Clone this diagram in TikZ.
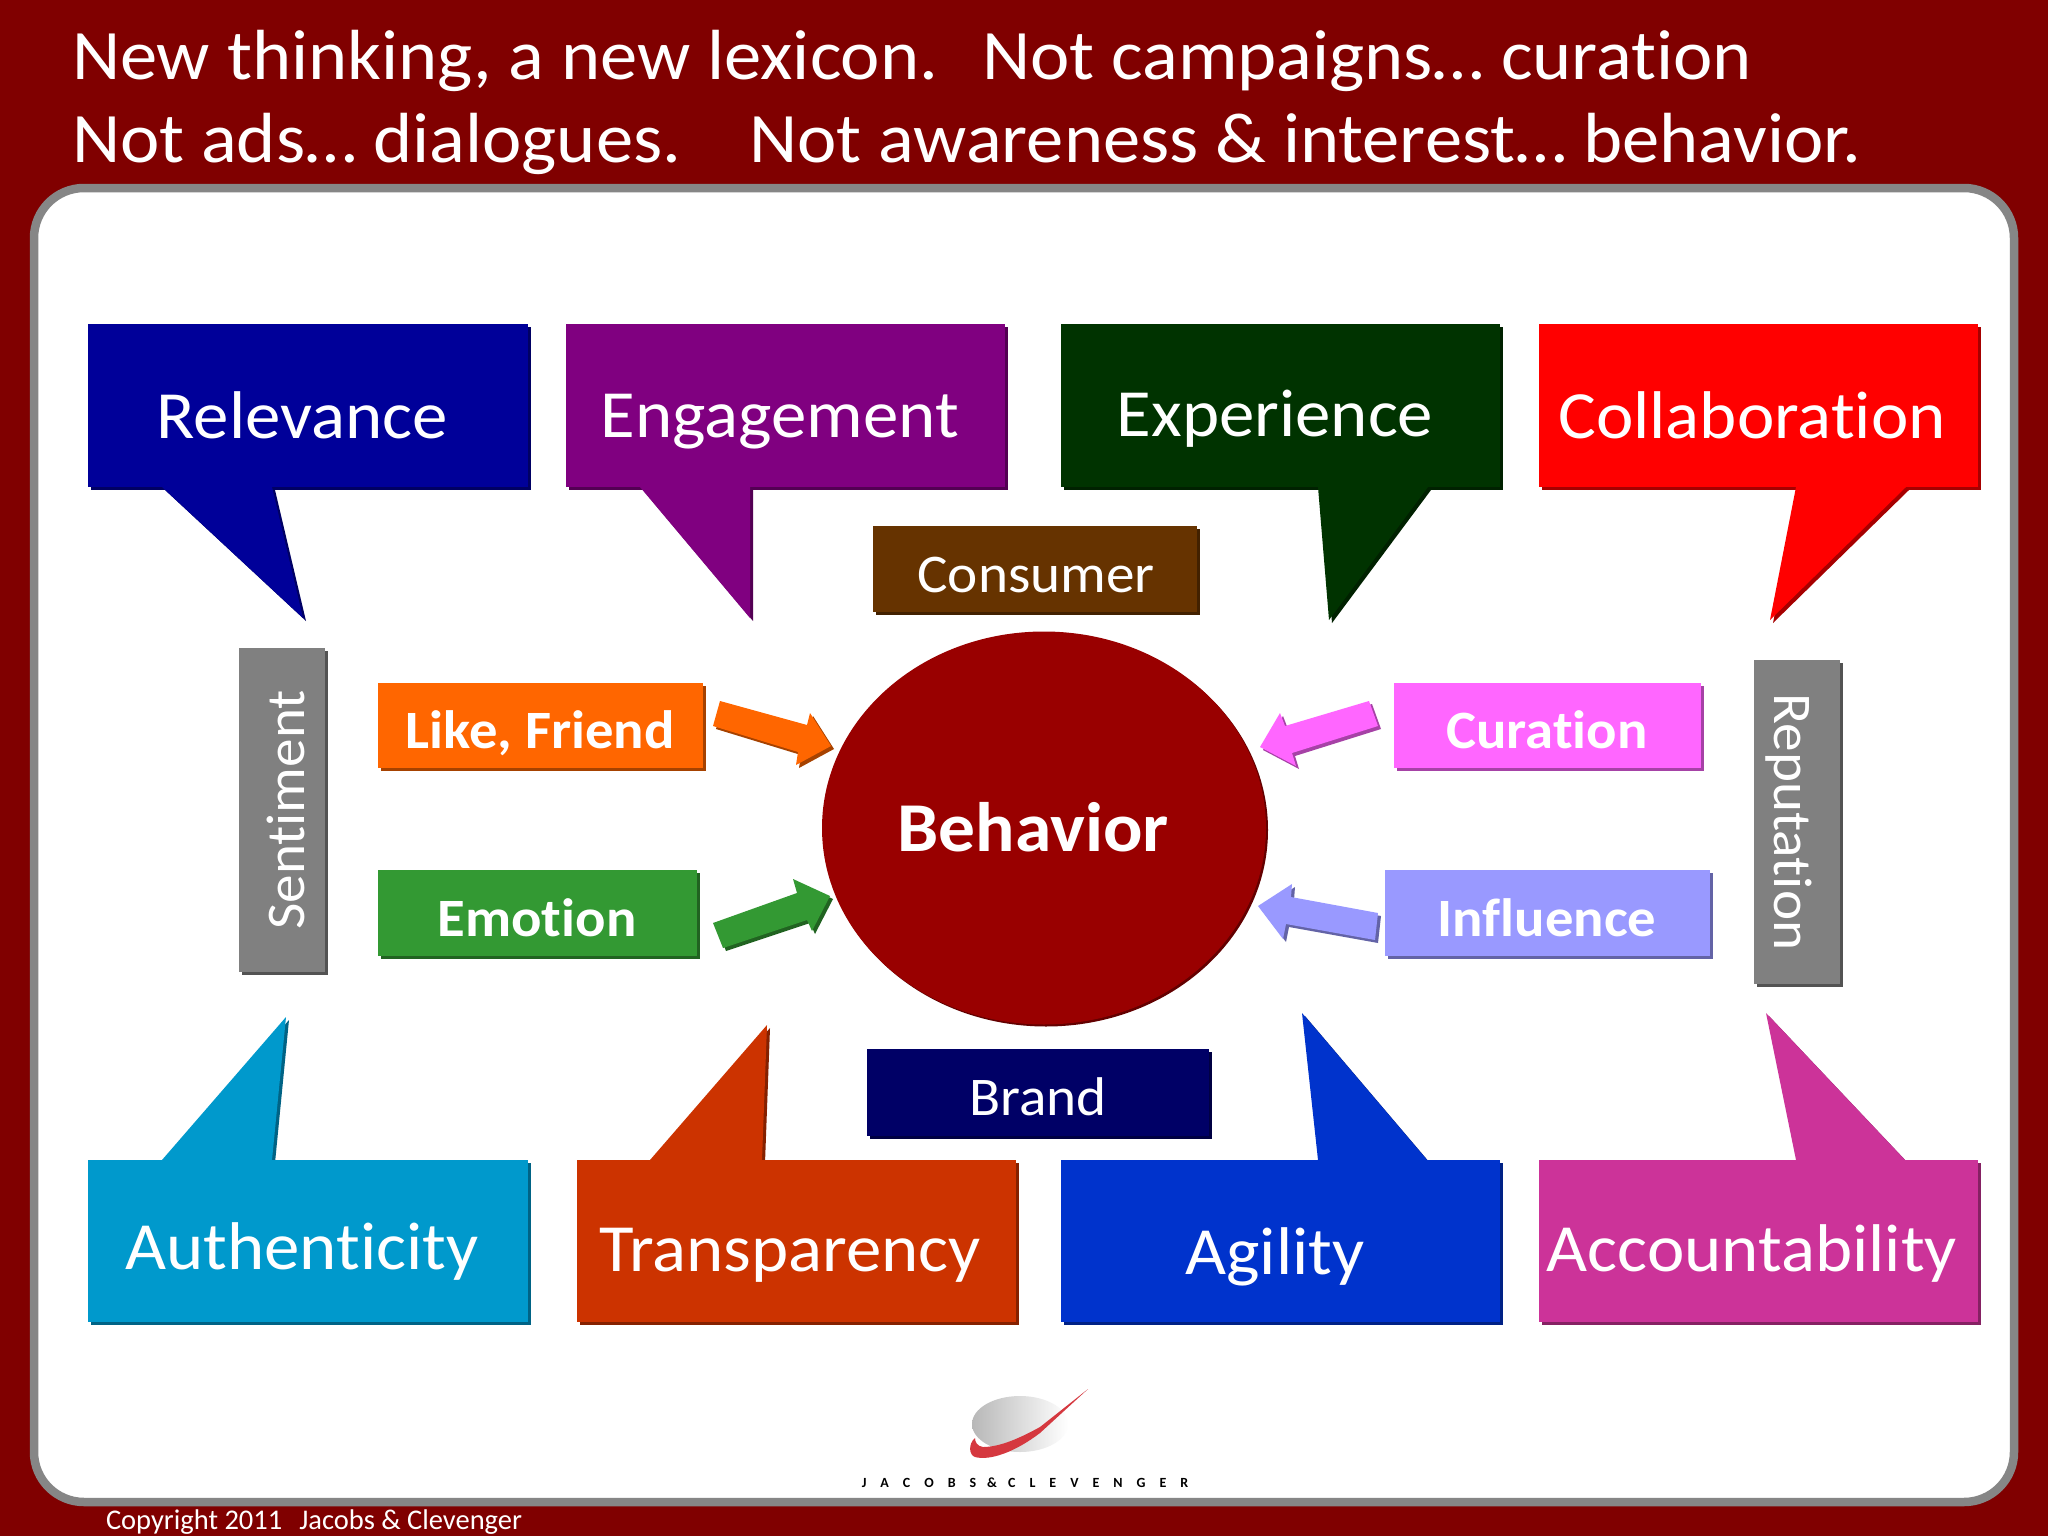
\documentclass[tikz,border=0pt]{standalone}
\usepackage{fontspec}
\setmainfont{Carlito}[FakeStretch=1.05,Ligatures=NoCommon]
\newfontfamily\plainf{Carlito}[Ligatures=NoCommon]
\usetikzlibrary{shadings}
\definecolor{bgred}{HTML}{800000}
\definecolor{panelgray}{HTML}{868686}
\definecolor{cRel}{HTML}{000099}
\definecolor{cEng}{HTML}{800080}
\definecolor{cExp}{HTML}{003300}
\definecolor{cCol}{HTML}{FF0000}
\definecolor{cAut}{HTML}{0099CC}
\definecolor{cTra}{HTML}{CC3300}
\definecolor{cAgi}{HTML}{0033CC}
\definecolor{cAcc}{HTML}{CC3399}
\definecolor{cCon}{HTML}{663300}
\definecolor{cBra}{HTML}{000066}
\definecolor{cBeh}{HTML}{990000}
\definecolor{cGra}{HTML}{808080}
\definecolor{cLik}{HTML}{FF6600}
\definecolor{cEmo}{HTML}{339933}
\definecolor{cCur}{HTML}{FF66FF}
\definecolor{cInf}{HTML}{9999FF}
\definecolor{swoosh}{HTML}{D5383F}
\tikzset{
  x=1pt,y=-1pt,
  lab/.style={text=white,anchor=base,inner sep=0pt,outer sep=0pt},
  big/.style={lab,font=\fontsize{67.5}{67.5}\selectfont},
  mid/.style={lab,font=\fontsize{54.5}{54.5}\selectfont},
  bmid/.style={lab,font=\bfseries\fontsize{54}{54}\selectfont},
  ttl/.style={lab,anchor=base west,font=\fontsize{71}{72}\selectfont},
  sh/.style={fill=#1!65!black},
  fl/.style={fill=#1},
}
% callout: colour, x1,y1,x2,y2, attach y, base1, base2, tip x, tip y
\newcommand{\callout}[9]{%
  \def\cc{#1}%
  \foreach \dx/\sty in {3/sh,0/fl}{%
    \fill[\sty=\cc,shift={(\dx,\dx)}] (#2,#3) rectangle (#4,#5);
    \fill[\sty=\cc,shift={(\dx,\dx)}] (#6,#7) -- (#8,#9) -- (\tipx,\tipy) -- cycle;
  }}
\newcommand{\blockarrow}[2]{%
  \fill[sh=#1,shift={(3,3)}] #2 -- cycle;
  \fill[fl=#1] #2 -- cycle;}
\newcommand{\flatbox}[6]{%
  \fill[sh=#2] (#3+3,#4+3) rectangle (#5+3,#6+3);
  \node[fl=#2,inner sep=0pt,outer sep=0pt,minimum width=#5pt-#3pt,minimum height=#6pt-#4pt,anchor=north west] (#1) at (#3,#4) {};}
\begin{document}
\begin{tikzpicture}
\useasboundingbox (0,0) rectangle (2048,1536);
\fill[bgred] (0,0) rectangle (2048,1536);
% panel
\draw[panelgray,fill=white,line width=8.5pt,rounded corners=50pt] (34,188) rectangle (2014,1502);
% titles
\node[ttl] (t1) at (72,80) {New thinking, a new lexicon.\hspace{44pt}Not campaigns… curation};
\node[ttl] (t2) at (72,162) {Not ads… dialogues.\hspace{68pt}Not awareness \& interest… behavior.};
% callouts
\def\tipx{303}\def\tipy{618}\callout{cRel}{88}{324}{528}{487}{162}{487}{272}{487}
\def\tipx{750}\def\tipy{618}\callout{cEng}{566}{324}{1005}{487}{640}{487}{750}{487}
\def\tipx{1329}\def\tipy{620}\callout{cExp}{1061}{324}{1500}{487}{1318}{487}{1428}{487}
\def\tipx{1770}\def\tipy{620}\callout{cCol}{1539}{324}{1978}{487}{1796}{487}{1906}{487}
\def\tipx{286}\def\tipy{1017}\callout{cAut}{88}{1160}{528}{1322}{162}{1160}{272}{1160}
\def\tipx{767}\def\tipy{1025}\callout{cTra}{577}{1160}{1016}{1322}{650}{1160}{762}{1160}
\def\tipx{1302}\def\tipy{1013}\callout{cAgi}{1061}{1160}{1500}{1322}{1318}{1160}{1427}{1160}
\def\tipx{1766}\def\tipy{1013}\callout{cAcc}{1539}{1160}{1978}{1322}{1796}{1160}{1905}{1160}
\node[big] (relevance) at (302,438) {Relevance};
\node[big] (engagement) at (780,437) {Engagement};
\node[big] (experience) at (1275,436) {Experience};
\node[big] (collaboration) at (1752,438) {Collaboration};
\node[big] (authenticity) at (302,1269) {Authenticity};
\node[big] (transparency) at (790,1271) {Transparency};
\node[big] (agility) at (1275,1274) {Agility};
\node[big] (accountability) at (1752,1271) {Accountability};
% small boxes
\flatbox{consumerbox}{cCon}{873}{526}{1197}{612}
\flatbox{brandbox}{cBra}{867}{1049}{1209}{1136}
\flatbox{sentbox}{cGra}{239}{648}{325}{972}
\flatbox{repbox}{cGra}{1754}{660}{1840}{984}
\flatbox{likebox}{cLik}{378}{683}{703}{768}
\flatbox{emobox}{cEmo}{378}{870}{697}{956}
\flatbox{curbox}{cCur}{1394}{683}{1701}{768}
\flatbox{infbox}{cInf}{1385}{870}{1710}{956}
\node[mid] (consumer) at (1036,592) {Consumer};
\node[mid] (brand) at (1038,1115) {Brand};
\node[mid,rotate=90] (sentiment) at (304,810) {Sentiment};
\node[mid,rotate=-90] (reputation) at (1774,822) {Reputation};
\node[bmid] (like) at (540,748) {Like, Friend};
\node[bmid] (emotion) at (537,936) {Emotion};
\node[bmid] (curation) at (1547,748) {Curation};
\node[bmid] (influence) at (1547,936) {Influence};
% behaviour
\fill[cBeh!65!black] (1046,830) ellipse [x radius=222,y radius=196.5];
\fill[cBeh] (1044,828) ellipse [x radius=222,y radius=196.5];
\node[lab,font=\bfseries\fontsize{70}{70}\selectfont] (behavior) at (1033,851) {Behavior};
% block arrows
\blockarrow{cLik}{(720,701) -- (807,725) -- (810,713) -- (831,746) -- (796,765) -- (798,752) -- (713,726)}
\blockarrow{cEmo}{(713,923) -- (797,893) -- (793,879) -- (830,896) -- (812,931) -- (807,920) -- (723,948)}
\blockarrow{cCur}{(1369,701) -- (1285,726) -- (1280,713) -- (1260,747) -- (1296,766) -- (1292,753) -- (1378,726)}
\blockarrow{cInf}{(1378,913) -- (1291,897) -- (1292,884) -- (1258,906) -- (1283,939) -- (1286,924) -- (1375,940)}
% logo
\shade[left color=black!28,right color=white,draw=none] (1020,1424) ellipse [x radius=48,y radius=28];
\fill[swoosh] (1088,1389) -- (1040,1427) .. controls (1020,1438) and (1000,1447) .. (983,1447) .. controls (977,1446) and (975,1442) .. (975,1438) .. controls (968,1444) and (969,1455) .. (975,1457) .. controls (990,1461) and (1015,1452) .. (1040,1433) -- cycle;
\node[lab,text=black,font=\plainf\bfseries\fontsize{14}{14}\selectfont] (jc) at (1025,1487) {J\hspace{14pt}A\hspace{14pt}C\hspace{14pt}O\hspace{14pt}B\hspace{14pt}S\hspace{11pt}\&\hspace{11pt}C\hspace{14pt}L\hspace{14pt}E\hspace{14pt}V\hspace{14pt}E\hspace{14pt}N\hspace{14pt}G\hspace{14pt}E\hspace{14pt}R};
\node[lab,anchor=base west,font=\plainf\fontsize{28.5}{28.5}\selectfont] (copy) at (106,1529) {Copyright 2011\hspace{17pt}Jacobs \& Clevenger};
\end{tikzpicture}
\end{document}
